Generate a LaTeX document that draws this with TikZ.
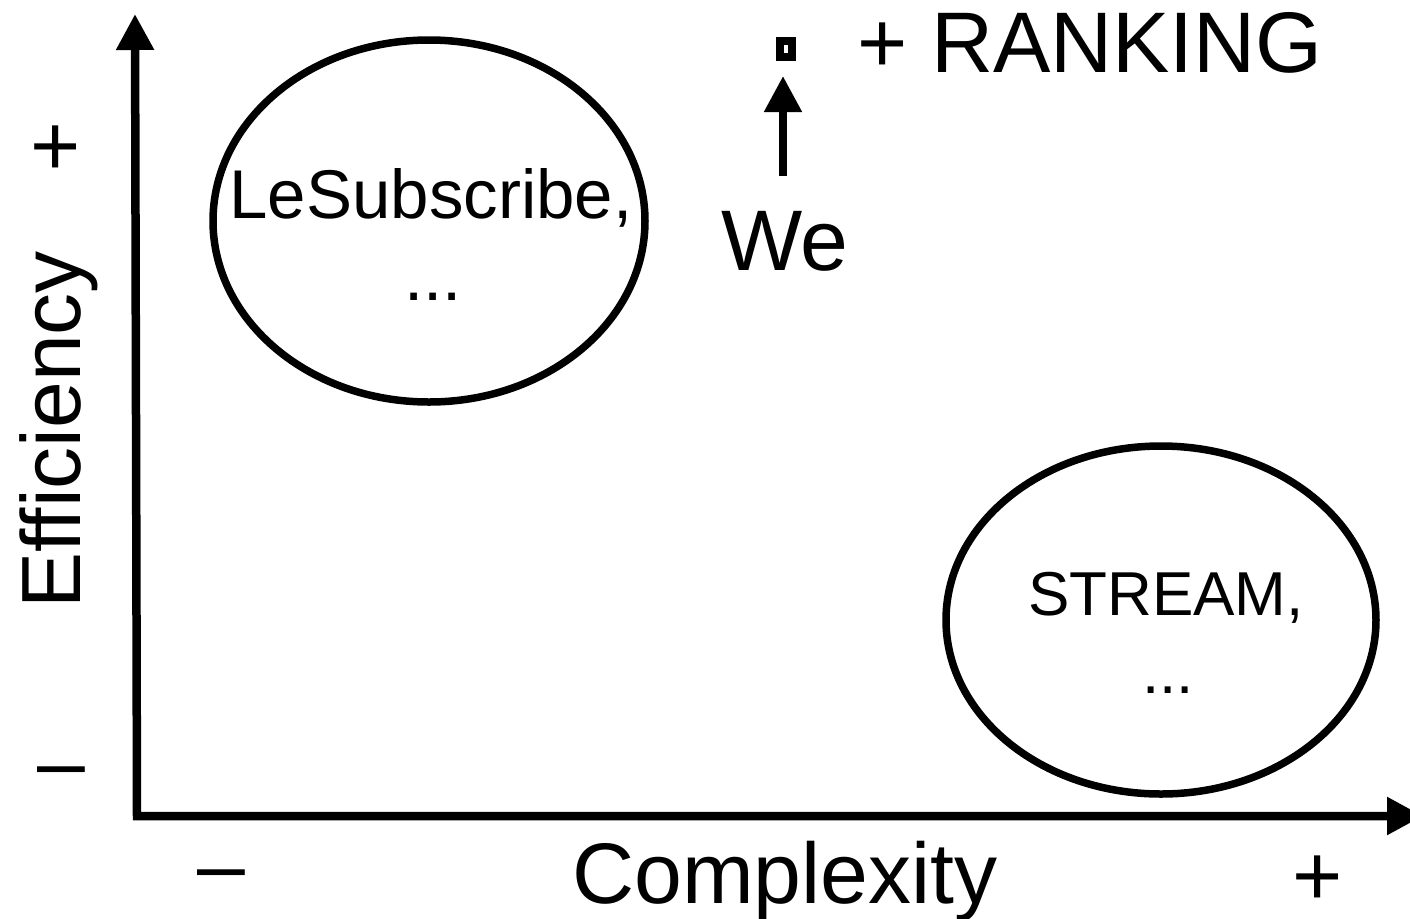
\documentclass[tikz,border=0pt]{standalone}
\usepackage{fontspec}
\setmainfont{Liberation Sans}
\usetikzlibrary{arrows.meta, shapes.geometric, positioning}
\tikzset{
	axis/.style={
		line width=4.25pt,
		line join=miter,
		arrows={Triangle[length=18pt, width=18pt]-Triangle[length=18pt, width=18pt]}
	},
	pointer/.style={
		line width=4pt,
		arrows={-Triangle[length=18pt, width=18pt]}
	},
	blob/.style={
		draw,
		ellipse,
		line width=3.75pt,
		inner sep=0pt
	},
	big label/.style={
		font=\fontsize{43pt}{50pt}\selectfont,
		inner sep=0pt,
		anchor=base
	},
	blob label/.style={
		inner sep=0pt,
		anchor=base
	}
}

\begin{document}
\begin{tikzpicture}[x=.5pt, y=-.5pt]
\useasboundingbox (0,0) rectangle (1410,918);

% ---
% Axes
% ---
\coordinate (ytip) at (135,14);
\coordinate (origin) at (137,816);
\coordinate (xtip) at (1423,816);
\draw[axis] (ytip) -- (origin) -- (xtip);

\node[big label, rotate=90, font=\fontsize{42pt}{50pt}\selectfont] (ylabel) at (80,430) {Efficiency};
\node[big label] (xlabel) at (785,903) {Complexity};
\node[big label] (yplus) at (56,175) {+};
\node[big label] (yminus) at (61,791) {–};
\node[big label] (xminus) at (221,894) {–};
\node[big label] (xplus) at (1318,905) {+};

% ---
% Groups
% ---
\node[blob, minimum width=216pt, minimum height=181pt] (lesub) at (429,221) {};
\node[blob label, font=\fontsize{34.5pt}{40pt}\selectfont] (lesub-name) at (431,218) {LeSubscribe,};
\node[blob label, font=\fontsize{34.5pt}{40pt}\selectfont] (lesub-dots) at (433,300) {...};

\node[blob, minimum width=215pt, minimum height=174pt] (stream) at (1161,620) {};
\node[blob label, font=\fontsize{31pt}{36pt}\selectfont] (stream-name) at (1166,615) {STREAM,};
\node[blob label, font=\fontsize{31pt}{36pt}\selectfont] (stream-dots) at (1168,693) {...};

% ---
% We
% ---
\node[big label] (we) at (785,270) {We};
\node[draw, line width=4pt, minimum width=6pt, minimum height=8pt, inner sep=0pt] (box) at (786,49) {};
\node[big label] (ranking) at (1090,72) {+ RANKING};
\coordinate (we-top) at (783,176);
\coordinate (box-below) at (783,76);
\draw[pointer] (we-top) -- (box-below);
\end{tikzpicture}
\end{document}
